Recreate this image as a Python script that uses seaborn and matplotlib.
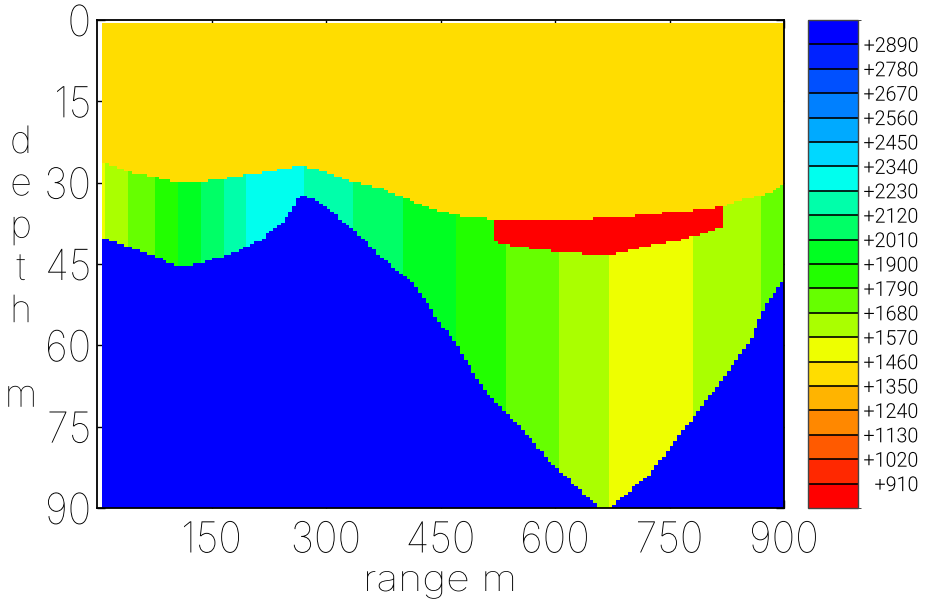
import numpy as np
import pandas as pd
import matplotlib
matplotlib.use("Agg")
import matplotlib.pyplot as plt
from matplotlib.colors import ListedColormap, BoundaryNorm
from matplotlib import font_manager as fm
from matplotlib.patheffects import AbstractPathEffect
from matplotlib.transforms import Affine2D
from matplotlib.textpath import TextPath
import seaborn as sns

# ---------------- data ----------------
# bottom of the top (1350-1460) layer, incl. top of the low-velocity lens
TOP_X = [6, 43, 105, 131, 179, 250, 268, 293, 336, 372, 402, 449, 484, 519,
         590, 651, 717, 757, 792, 820, 850, 878, 900]
TOP_Z = [26.2, 28.0, 29.9, 29.9, 29.0, 27.3, 26.9, 27.7, 29.8, 31.0, 32.8,
         35.3, 36.4, 36.7, 37.0, 36.6, 36.0, 35.4, 35.0, 34.4, 33.0, 32.0, 30.4]

# bottom of the red low-velocity lens
LENS_X = [519, 529, 573, 644, 674, 717, 766, 779, 820]
LENS_Z = [40.7, 41.3, 42.3, 43.2, 43.2, 41.8, 40.6, 40.0, 38.1]

# top of the high-velocity basement
BASE_X = [6, 43, 83, 105, 135, 179, 214, 250, 267, 293, 336, 372, 402, 415,
          449, 464, 507, 552, 595, 638, 657, 667, 680, 726, 770, 814, 858,
          875, 900]
BASE_Z = [40.2, 41.8, 43.9, 45.5, 44.8, 43.0, 40.6, 36.3, 32.1, 33.7, 38.7,
          43.6, 47.4, 48.5, 55.8, 58.4, 68.2, 74.7, 81.7, 87.3, 89.8, 91.0,
          89.0, 83.4, 75.3, 67.3, 58.4, 52.9, 47.5]

# lateral velocity bands of the middle layer
BAND_EDGES = [6, 12.6, 43.3, 74, 103.8, 134, 163.8, 195.3, 268.9, 336, 402,
              469, 537, 604, 672, 778, 869.5, 900]
BAND_VEL = [1515, 1625, 1735, 1845, 1955, 2065, 2175, 2285, 2175, 2065, 1955,
            1845, 1735, 1625, 1515, 1625, 1735]

V_TOP = 1400
V_LENS = 850
V_BASE = 2950

LEVELS = [800, 910, 1020, 1130, 1240, 1350, 1460, 1570, 1680, 1790, 1900,
          2010, 2120, 2230, 2340, 2450, 2560, 2670, 2780, 2890, 3000]
COLORS = ['#FF0000', '#FF2800', '#FF5A00', '#FF8800', '#FFB400', '#FFDD00',
          '#EEFF00', '#AAFF00', '#66FF00', '#22FF00', '#00FF22', '#00FF66',
          '#00FFAA', '#00FFEE', '#00D8FF', '#00AAFF', '#0080FF', '#0050FF',
          '#0022FF', '#0000FF']
CBAR_TICKS = LEVELS[1:-1]

X_TICKS = [150, 300, 450, 600, 750, 900]
Y_TICKS = [0, 15, 30, 45, 60, 75, 90]
X_LABEL = "range m"
Y_LABEL = ["d", "e", "p", "t", "h", "", "m"]

# ---------------- style ----------------
sns.set_style("ticks")
plt.rcParams["font.family"] = ["DejaVu Sans"]


def _w(f):
    w = f.weight
    if isinstance(w, str):
        w = fm.weight_dict.get(w, 400)
    return int(w)


def pick_font(weights):
    fams = ["Roboto", "Lato", "Open Sans", "Inter", "Noto Sans", "DejaVu Sans"]
    for w in weights:
        for fam in fams:
            for f in fm.fontManager.ttflist:
                if (f.name == fam and _w(f) == w and f.style == "normal"
                        and str(f.stretch) == "normal"):
                    return f.fname
    return fm.findfont("DejaVu Sans")


FONT_THIN = pick_font((100, 200, 300))
FONT_SMALL = pick_font((300, 400))
PX = 100 / 72


class Squeeze(AbstractPathEffect):
    """Horizontally condense glyphs (the reference uses a narrow stroke font)."""

    def __init__(self, sx, anchor="center"):
        super().__init__()
        self.sx = sx
        self.anchor = anchor

    def draw_path(self, renderer, gc, tpath, affine, rgbFace=None):
        e = tpath.get_extents()
        a = {"right": e.x1, "left": e.x0}.get(self.anchor, 0.5 * (e.x0 + e.x1))
        t = Affine2D().translate(-a, 0).scale(self.sx, 1).translate(a, 0) + affine
        renderer.draw_path(gc, tpath, t, rgbFace)


def fit(font, h_str, h_px, w_str=None, w_px=None):
    fp = fm.FontProperties(fname=font)
    e = TextPath((0, 0), h_str, size=100, prop=fp).get_extents()
    size = 100 * h_px / (e.height * PX)
    sx = 1.0
    if w_str:
        e2 = TextPath((0, 0), w_str, size=size, prop=fp).get_extents()
        sx = w_px / (e2.width * PX)
    return fm.FontProperties(fname=font, size=size), sx


FP_TICK, SX_TICK = fit(FONT_THIN, "150", 32, "150", 55)
FP_CB, SX_CB = fit(FONT_SMALL, "2890", 15, "+2890", 53)
FP_YL, SX_YL = fit(FONT_THIN, "d", 28, "e", 17)
FP_XL, SX_XL = fit(FONT_THIN, "n", 20, X_LABEL, 146)

# ---------------- grid of the velocity model ----------------
X0, X1, NX = 6.0, 900.0, 179
Z0, Z1, NZ = 0.6, 90.0, 180
DX = (X1 - X0) / NX
DZ = (Z1 - Z0) / NZ
xc = X0 + (np.arange(NX) + 0.5) * DX
zc = Z0 + (np.arange(NZ) + 0.5) * DZ
XX, ZZ = np.meshgrid(xc, zc)

top = np.interp(xc, TOP_X, TOP_Z)
base = np.interp(xc, BASE_X, BASE_Z)
lensb = np.interp(xc, LENS_X, LENS_Z)
inlens = (xc >= LENS_X[0]) & (xc <= LENS_X[-1])
bidx = np.clip(np.searchsorted(BAND_EDGES, xc, side="right") - 1, 0, len(BAND_VEL) - 1)
vmid = np.array(BAND_VEL)[bidx]

field = np.where(ZZ < top, V_TOP,
         np.where(inlens & (ZZ < lensb), V_LENS,
          np.where(ZZ < base, vmid, V_BASE)))
df = pd.DataFrame(field, index=np.round(zc, 2), columns=np.round(xc, 1))

cmap = ListedColormap(COLORS)
norm = BoundaryNorm(LEVELS, cmap.N)

# ---------------- figure ----------------
W, H = 925, 612
fig = plt.figure(figsize=(W / 100, H / 100), dpi=100)
ax = fig.add_axes([97 / W, 1 - 508 / H, (784 - 97) / W, (508 - 20) / H])
cax = fig.add_axes([808 / W, 1 - 508 / H, 50 / W, (508 - 20) / H])

sns.heatmap(df, ax=ax, cbar_ax=cax, cmap=cmap, norm=norm,
            xticklabels=False, yticklabels=False,
            cbar_kws={"drawedges": True})


def xpos(x):
    return (x - X0) / DX


def zpos(z):
    return (z - Z0) / DZ


ax.set_xlim(xpos(0), xpos(900))
ax.set_ylim(zpos(90), zpos(0))
ax.set_xlabel("")
ax.set_ylabel("")
ax.tick_params(direction="in", length=6, width=1, colors="black",
               top=True, right=True, labeltop=False, labelright=False)
ax.tick_params(axis="x", pad=9)
ax.tick_params(axis="y", pad=4)
ax.set_xticks([xpos(v) for v in X_TICKS])
ax.set_xticklabels([str(v) for v in X_TICKS], fontproperties=FP_TICK,
                   color="black", path_effects=[Squeeze(SX_TICK, "center")])
ax.set_yticks([zpos(v) for v in Y_TICKS])
ax.set_yticklabels([str(v) for v in Y_TICKS], rotation=0,
                   fontproperties=FP_TICK, color="black",
                   path_effects=[Squeeze(SX_TICK, "right")])
for s in ax.spines.values():
    s.set_visible(True)
    s.set_linewidth(1.3)
    s.set_color("black")

# colorbar
cb = ax.collections[0].colorbar
cax.tick_params(length=0, pad=43.5)
cb.set_ticks(CBAR_TICKS)
cb.set_ticklabels([f"+{v}" for v in CBAR_TICKS])
for t in cax.get_yticklabels():
    t.set_fontproperties(FP_CB)
    t.set_horizontalalignment("right")
    t.set_color("black")
    t.set_path_effects([Squeeze(SX_CB, "right")])
cb.outline.set_visible(True)
cb.outline.set_linewidth(1.0)
cb.outline.set_edgecolor("#444444")
cb.dividers.set_color("black")
cb.dividers.set_linewidth(1.2)

# axis titles
fig.text(440 / W, 1 - 591 / H, X_LABEL, ha="center", va="baseline",
         fontproperties=FP_XL, color="black",
         path_effects=[Squeeze(SX_XL, "center")])
for i, ch in enumerate(Y_LABEL):
    if ch:
        fig.text(21 / W, 1 - (153 + 42.3 * i) / H, ch, ha="center",
                 va="baseline", fontproperties=FP_YL, color="black",
                 path_effects=[Squeeze(SX_YL, "center")])

fig.savefig("out.png", dpi=100)
